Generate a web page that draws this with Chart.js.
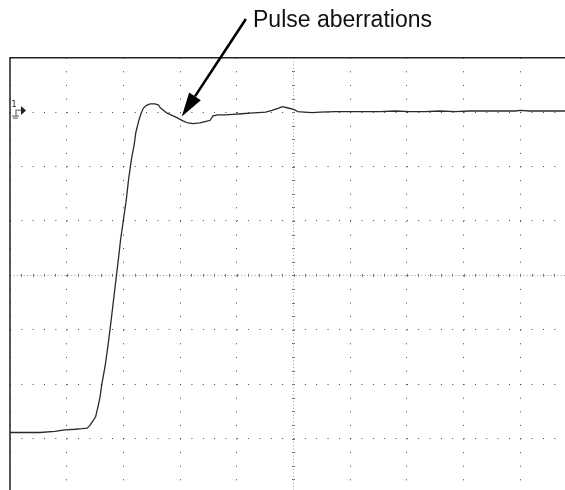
<!DOCTYPE html>
<html>
<head>
<meta charset="utf-8">
<script src="https://cdn.jsdelivr.net/npm/chart.js@4.4.1/dist/chart.umd.min.js"></script>
<style>
  html, body { margin: 0; padding: 0; background: #fff; overflow: hidden; }
  #wrap { width: 580px; height: 500px; }
</style>
</head>
<body>
<div id="wrap"><canvas id="scope" width="580" height="500"></canvas></div>
<script>
// trace, in grid divisions (10 across, 8 down, 0 = centre line)
const traceX = [0, 0.26, 0.53, 0.79, 0.97, 1.15, 1.27, 1.36, 1.41, 1.46, 1.51, 1.53, 1.56, 1.59,
  1.62, 1.68, 1.73, 1.78, 1.83, 1.88, 1.92, 1.95, 2.00, 2.05, 2.09, 2.14, 2.19, 2.22, 2.27, 2.31,
  2.35, 2.40, 2.47, 2.56, 2.62, 2.65, 2.70, 2.77, 2.86, 2.96, 3.05, 3.14, 3.23, 3.35, 3.46, 3.53,
  3.58, 3.67, 3.79, 3.93, 4.09, 4.23, 4.37, 4.51, 4.62, 4.73, 4.80, 4.89, 5.00, 5.08, 5.19, 5.33,
  5.47, 5.73, 6.00, 6.26, 6.53, 6.79, 7.05, 7.32, 7.58, 7.85, 8.11, 8.38, 8.64, 8.91, 9.00, 9.17,
  9.44, 9.79, 10.0];
const traceY = [-2.89, -2.89, -2.89, -2.87, -2.84, -2.83, -2.82, -2.81, -2.76, -2.68, -2.60, -2.51,
  -2.38, -2.22, -2.00, -1.65, -1.28, -0.86, -0.42, 0.02, 0.37, 0.65, 1.02, 1.38, 1.75, 2.12, 2.40,
  2.63, 2.84, 2.97, 3.07, 3.12, 3.15, 3.15, 3.13, 3.08, 3.04, 2.98, 2.94, 2.89, 2.84, 2.80, 2.79,
  2.80, 2.83, 2.85, 2.93, 2.95, 2.95, 2.96, 2.97, 2.98, 2.99, 3.00, 3.03, 3.07, 3.10, 3.08, 3.05,
  3.01, 3.00, 2.99, 3.00, 3.01, 3.01, 3.01, 3.01, 3.02, 3.01, 3.01, 3.02, 3.01, 3.02, 3.02, 3.02,
  3.02, 3.03, 3.02, 3.02, 3.02, 3.02];

// annotation: label and arrow (tail, tip) in divisions
const noteText = 'Pulse aberrations';
const arrowTail = [4.16, 4.71];
const arrowTip = [3.03, 2.92];
const channelLevel = 3; // channel 1 reference marker

const points = traceX.map((x, i) => ({x: x, y: traceY[i]}));

function dashFor(axisDots) {
  return function(ctx) {
    const v = ctx.tick ? ctx.tick.value : null;
    if (v === 0 && axisDots.centre === 0) return [1, 2];
    return [1, axisDots.gap];
  };
}

const scopeDecor = {
  id: 'scopeDecor',
  afterDraw(chart) {
    const c = chart.ctx, xs = chart.scales.x, ys = chart.scales.y;
    const a = chart.chartArea;
    c.save();
    // frame: left and top edges
    c.strokeStyle = '#222';
    c.lineWidth = 1.5;
    c.beginPath();
    c.moveTo(a.left, a.bottom);
    c.lineTo(a.left, a.top);
    c.lineTo(a.right, a.top);
    c.stroke();

    // small ticks on the centre lines
    const cx = xs.getPixelForValue(5), cy = ys.getPixelForValue(0);
    c.strokeStyle = '#777';
    c.lineWidth = 1;
    c.beginPath();
    for (let k = 1; k < 50; k++) {
      const px = Math.round(xs.getPixelForValue(k * 0.2)) + 0.5;
      c.moveTo(px, cy - 1.5); c.lineTo(px, cy + 1.5);
    }
    for (let k = -15; k < 16; k++) {
      const py = Math.round(ys.getPixelForValue(k * 0.25)) + 0.5;
      c.moveTo(cx - 1.5, py); c.lineTo(cx + 1.5, py);
    }
    c.stroke();

    // channel 1 marker
    const my = ys.getPixelForValue(channelLevel);
    const mx = a.left + 5;
    c.fillStyle = '#222';
    c.font = '8px "DejaVu Sans"';
    c.textAlign = 'center';
    c.textBaseline = 'alphabetic';
    c.fillText('1', mx - 1, my - 5);
    c.lineWidth = 1.3;
    c.beginPath();
    c.moveTo(mx + 1, my + 4); c.lineTo(mx + 1, my - 2); c.lineTo(mx + 6, my - 2);
    c.moveTo(mx - 3, my + 4); c.lineTo(mx + 4, my + 4);
    c.moveTo(mx - 2, my + 6); c.lineTo(mx + 3, my + 6);
    c.stroke();
    c.beginPath();
    c.moveTo(mx + 6, my - 6); c.lineTo(mx + 11, my - 1.5); c.lineTo(mx + 6, my + 3);
    c.closePath();
    c.fill();

    // annotation arrow
    const tx = xs.getPixelForValue(arrowTail[0]), ty = ys.getPixelForValue(arrowTail[1]);
    const hx = xs.getPixelForValue(arrowTip[0]), hy = ys.getPixelForValue(arrowTip[1]);
    const len = Math.hypot(tx - hx, ty - hy);
    const ux = (tx - hx) / len, uy = (ty - hy) / len;
    const headLen = 24, headHalf = 7;
    const bx = hx + ux * headLen, by = hy + uy * headLen;
    c.strokeStyle = '#000';
    c.fillStyle = '#000';
    c.lineWidth = 2.6;
    c.beginPath();
    c.moveTo(tx, ty); c.lineTo(bx, by);
    c.stroke();
    c.beginPath();
    c.moveTo(hx, hy);
    c.lineTo(bx - uy * headHalf, by + ux * headHalf);
    c.lineTo(bx + uy * headHalf, by - ux * headHalf);
    c.closePath();
    c.fill();

    // label
    c.font = '23px "Liberation Sans", Arial, sans-serif';
    c.textAlign = 'left';
    c.fillStyle = '#111';
    c.fillText(noteText, 253, 27);
    c.restore();
  }
};

new Chart(document.getElementById('scope'), {
  type: 'line',
  data: {
    datasets: [{
      data: points,
      borderColor: '#2a2a2a',
      borderWidth: 1.3,
      pointRadius: 0,
      tension: 0,
      fill: false
    }]
  },
  options: {
    responsive: false,
    animation: false,
    events: [],
    layout: { padding: { left: 10, top: 57.7, right: 3, bottom: 7.1 } },
    plugins: { legend: { display: false }, tooltip: { enabled: false } },
    scales: {
      x: {
        type: 'linear', min: 0, max: 10,
        ticks: { display: false, stepSize: 1 },
        grid: {
          drawTicks: false,
          lineWidth: 1,
          color: ctx => (ctx.tick && ctx.tick.value === 5) ? '#9a9a9a' : '#444'
        },
        border: {
          display: false,
          dash: ctx => (ctx.tick && ctx.tick.value === 5) ? [1, 2.4] : [1, 12.6]
        }
      },
      y: {
        type: 'linear', min: -4, max: 4,
        ticks: { display: false, stepSize: 1 },
        grid: {
          drawTicks: false,
          lineWidth: 1,
          color: ctx => (ctx.tick && ctx.tick.value === 0) ? '#9a9a9a' : '#444'
        },
        border: {
          display: false,
          dash: ctx => (ctx.tick && ctx.tick.value === 0) ? [1, 2.4] : [1, 10.34]
        }
      }
    }
  },
  plugins: [scopeDecor]
});
</script>
</body>
</html>
